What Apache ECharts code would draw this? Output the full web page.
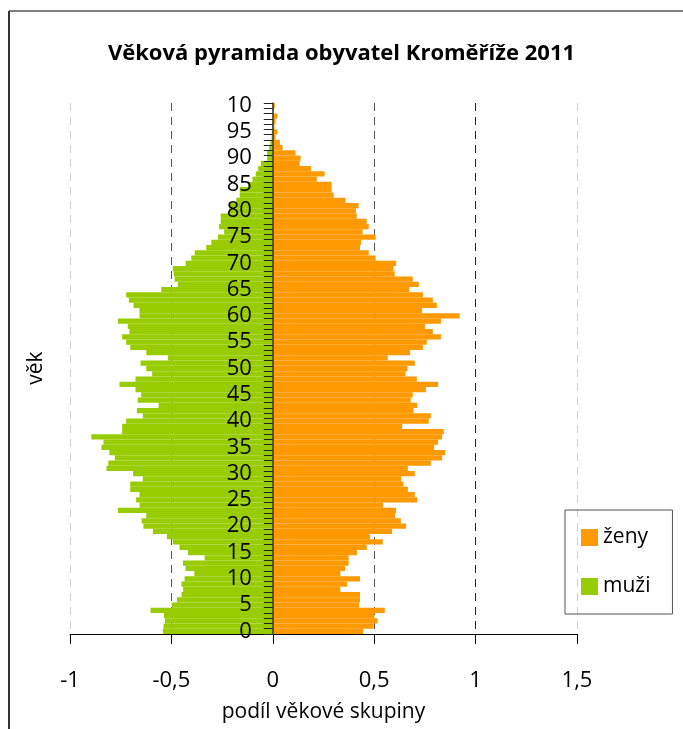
<!DOCTYPE html>
<html>
	<head>
		<meta charset="UTF-8">
		<title>Věková pyramida</title>
		<script src="https://cdn.jsdelivr.net/npm/echarts@6/dist/echarts.min.js"></script>
		<style type="text/css">
			html, body{
				margin: 0;
				padding: 0;
				background: #fff;
			}
			#pyramid{
				width: 683px;
				height: 729px;
			}
		</style>
	</head>
	<body>
		<div id="pyramid"></div>
		<script>
		// vek 0..100
		var ages = [];
		for (var i = 0; i <= 100; i++) {
			ages.push(String(i));
		}
		// popisky osy y (Excel oriznul 100 na "10")
		var ageLabels = {'100': '10'};
		var xTicks = [-1, -0.5, 0, 0.5, 1, 1.5];

		// podil zen, vek 0 -> 100
		var zeny = [
			0.445, 0.497, 0.517, 0.501, 0.552, 0.425, 0.430, 0.430, 0.333, 0.366,
			0.430, 0.333, 0.356, 0.374, 0.374, 0.415, 0.463, 0.542, 0.479, 0.588,
			0.657, 0.631, 0.603, 0.608, 0.544, 0.712, 0.700, 0.666, 0.644, 0.633,
			0.700, 0.666, 0.779, 0.835, 0.850, 0.796, 0.815, 0.835, 0.843, 0.638,
			0.769, 0.779, 0.694, 0.712, 0.680, 0.690, 0.755, 0.815, 0.710, 0.654,
			0.664, 0.700, 0.567, 0.677, 0.740, 0.759, 0.829, 0.789, 0.750, 0.829,
			0.921, 0.736, 0.809, 0.789, 0.740, 0.672, 0.720, 0.690, 0.601, 0.595,
			0.608, 0.507, 0.473, 0.430, 0.435, 0.507, 0.443, 0.473, 0.463, 0.414,
			0.410, 0.423, 0.359, 0.300, 0.290, 0.290, 0.217, 0.255, 0.188, 0.132,
			0.137, 0.112, 0.048, 0.035, 0.013, 0.023, 0.008, 0.013, 0.023, 0.004,
			0.010
		];
		// podil muzu, vek 0 -> 100
		var muzi = [
			0.542, 0.539, 0.532, 0.537, 0.603, 0.499, 0.473, 0.450, 0.442, 0.450,
			0.435, 0.387, 0.430, 0.443, 0.336, 0.418, 0.460, 0.493, 0.522, 0.591,
			0.638, 0.647, 0.624, 0.764, 0.657, 0.674, 0.657, 0.703, 0.703, 0.641,
			0.689, 0.820, 0.811, 0.779, 0.806, 0.845, 0.835, 0.895, 0.743, 0.743,
			0.723, 0.641, 0.670, 0.563, 0.666, 0.649, 0.677, 0.756, 0.677, 0.595,
			0.624, 0.652, 0.517, 0.624, 0.703, 0.723, 0.743, 0.707, 0.715, 0.764,
			0.657, 0.657, 0.687, 0.710, 0.723, 0.550, 0.468, 0.484, 0.489, 0.493,
			0.430, 0.402, 0.385, 0.328, 0.303, 0.270, 0.240, 0.265, 0.257, 0.257,
			0.216, 0.216, 0.180, 0.163, 0.163, 0.122, 0.100, 0.084, 0.072, 0.059,
			0.028, 0.028, 0.018, 0.012, 0.006, 0.005, 0.004, 0.003, 0.003, 0.002,
			0.002
		];

		var muziNeg = [];
		for (var i = 0; i < muzi.length; i++) {
			muziNeg.push(-muzi[i]);
		}

		var font = 'Open Sans';
		var gridLeft = 70, gridRight = 106;
		// posun osy y na nulu osy x (v pixelech)
		var plotW = 683 - gridLeft - gridRight;
		var zeroShift = plotW * (0 - xTicks[0]) / (xTicks[xTicks.length - 1] - xTicks[0]);

		var myChart = echarts.init(document.getElementById('pyramid'));
		var option = {
			animation: false,
			color: ['#ff9900', '#99cc00'],
			textStyle: {
				fontFamily: font
			},
			title: {
				text: 'Věková pyramida obyvatel Kroměříže 2011',
				left: 'center',
				top: 38,
				textStyle: {
					fontFamily: font,
					fontSize: 22,
					fontWeight: 'bold',
					color: '#000'
				}
			},
			legend: {
				orient: 'vertical',
				left: 565,
				top: 510,
				padding: [17, 22, 17, 16],
				itemGap: 28,
				itemWidth: 17,
				itemHeight: 17,
				icon: 'rect',
				borderColor: '#555',
				borderWidth: 1,
				data: ['ženy', 'muži'],
				textStyle: {
					fontFamily: font,
					fontSize: 21,
					color: '#000'
				}
			},
			grid: {
				left: gridLeft,
				right: gridRight,
				top: 103,
				bottom: 95,
				containLabel: false,
				outerBoundsMode: 'none'
			},
			xAxis: {
				type: 'value',
				min: xTicks[0],
				max: xTicks[xTicks.length - 1],
				interval: 0.5,
				name: 'podíl věkové skupiny',
				nameLocation: 'middle',
				nameGap: 68,
				nameTextStyle: {
					fontFamily: font,
					fontSize: 21,
					color: '#000'
				},
				axisLine: {
					show: true,
					lineStyle: {color: '#000', width: 1}
				},
				axisTick: {
					show: true,
					inside: false,
					length: 10,
					lineStyle: {color: '#000'}
				},
				axisLabel: {
					margin: 36,
					fontFamily: font,
					fontSize: 22,
					color: '#000',
					formatter: function (v) {
						return String(v).replace('.', ',');
					}
				},
				splitLine: {
					show: true,
					lineStyle: {
						type: [8, 6],
						width: 1,
						color: ['#d0d0d0', '#555', '#555', '#555', '#222', '#d0d0d0']
					}
				}
			},
			yAxis: {
				type: 'category',
				data: ages,
				offset: -zeroShift,
				z: 5,
				axisLine: {
					show: true,
					onZero: false,
					lineStyle: {color: '#3a3a3a', width: 1.5}
				},
				axisTick: {
					show: true,
					interval: 0,
					length: 9,
					lineStyle: {color: '#222'}
				},
				axisLabel: {
					interval: 4,
					margin: 21,
					padding: [14, 0, 0, 0],
					fontFamily: font,
					fontSize: 22,
					color: '#000',
					formatter: function (v) {
						return ageLabels[v] || v;
					}
				},
				splitLine: {show: false}
			},
			series: [
				{
					name: 'ženy',
					type: 'bar',
					data: zeny,
					barWidth: '100%',
					barGap: '-100%',
					z: 2
				},
				{
					name: 'muži',
					type: 'bar',
					data: muziNeg,
					barWidth: '100%',
					barGap: '-100%',
					z: 2
				}
			],
			graphic: [
				{
					type: 'line',
					shape: {x1: 9, y1: 11, x2: 683, y2: 11},
					style: {stroke: '#000', lineWidth: 1}
				},
				{
					type: 'line',
					shape: {x1: 9, y1: 11, x2: 9, y2: 729},
					style: {stroke: '#333', lineWidth: 2}
				},
				{
					// nazev osy y
					type: 'text',
					x: 36,
					y: 368,
					rotation: Math.PI / 2,
					style: {
						text: 'věk',
						fontFamily: font,
						fontSize: 21,
						fill: '#000',
						align: 'center',
						verticalAlign: 'middle'
					}
				}
			]
		};
		myChart.setOption(option);
		</script>
	</body>
</html>
